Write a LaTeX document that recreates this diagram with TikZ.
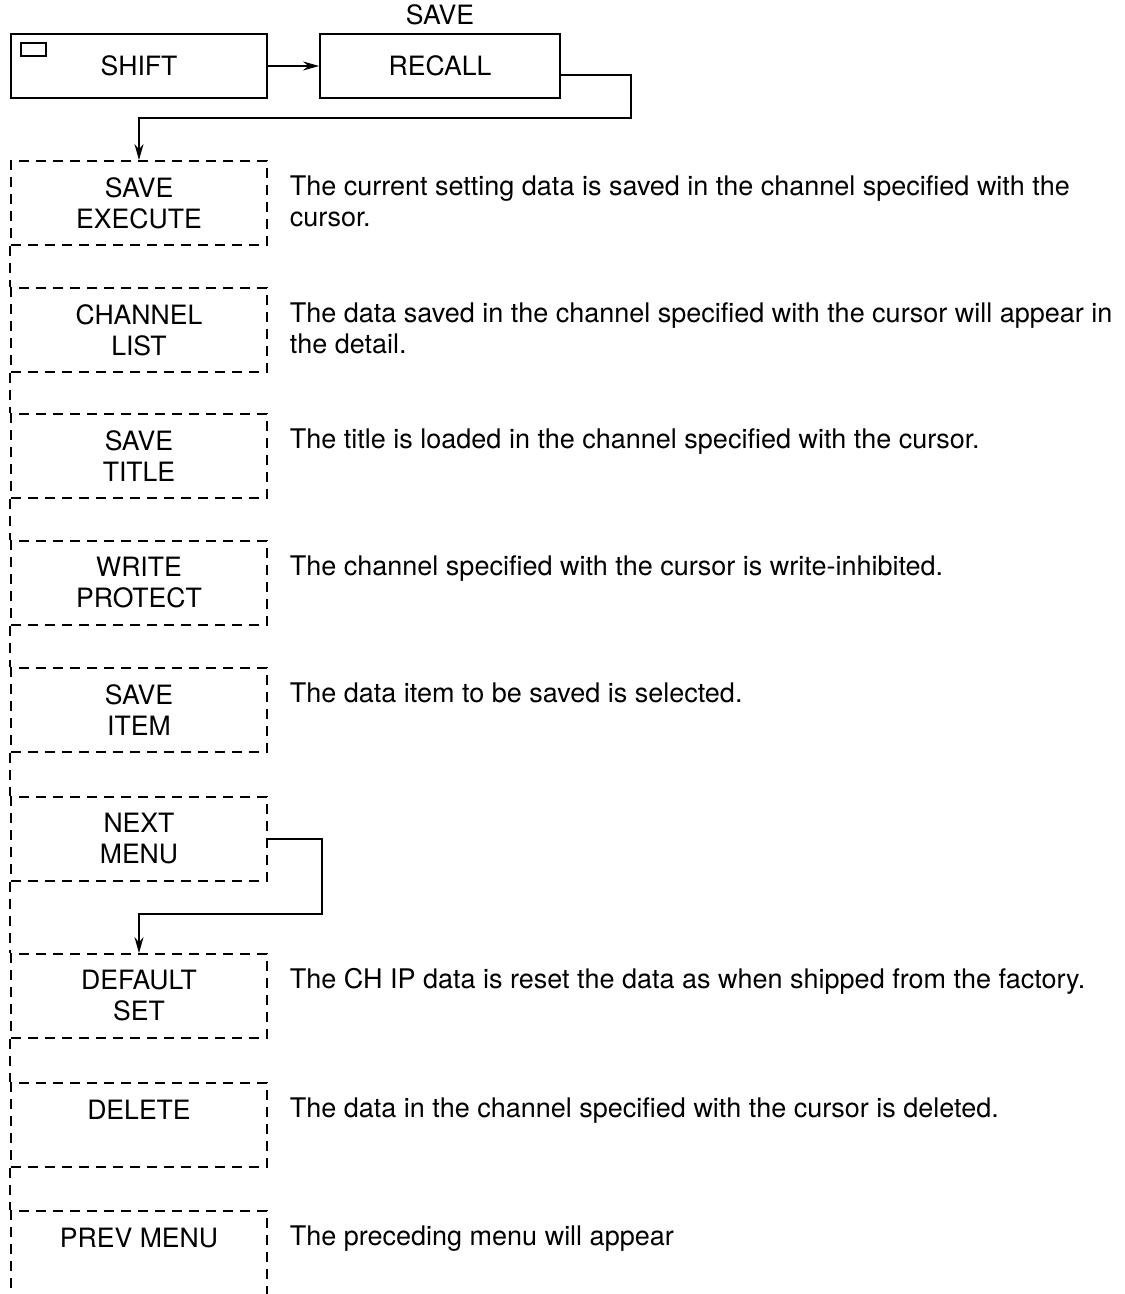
\documentclass[tikz,border=0pt]{standalone}
\usepackage{fontspec}
\setmainfont{TeX Gyre Heros}
\usetikzlibrary{arrows.meta}
\tikzset{
  keybox/.style={draw,minimum height=32pt,inner sep=0pt},
  menubox/.style={draw,dash pattern=on 5pt off 3.5pt,minimum width=128pt,
    minimum height=42pt,inner sep=0pt,align=center},
  desc/.style={anchor=north west,align=left,inner sep=0pt,font=\fontsize{13.5}{15.5}\selectfont},
  flow/.style={-{Stealth[length=8pt,width=4.5pt]}},
}
\begin{document}
\begin{tikzpicture}[x=0.5pt,y=-0.5pt,line width=0.9pt,
  font=\fontsize{13.3}{15.5}\selectfont]
\useasboundingbox (0,0) rectangle (1124,1294);
% keys on the panel
\node[keybox,minimum width=128pt] (shift) at (139,66) {SHIFT};
\node[draw,line width=0.7pt,minimum width=12.5pt,minimum height=6.5pt,inner sep=0pt] (lamp) at (33.5,49.5) {};
\node[keybox,minimum width=120pt] (recall) at (440,66) {RECALL};
\node (save) at (440,15) {SAVE};
\draw[flow] (shift.east) -- (recall.west);
% soft keys
\foreach \i/\ytop/\lbl/\txt in {
  1/161/{SAVE\\EXECUTE}/{The current setting data is saved in the channel specified with the\\cursor.},
  2/288/{CHANNEL\\LIST}/{The data saved in the channel specified with the cursor will appear in\\the detail.},
  3/414/{SAVE\\TITLE}/{The title is loaded in the channel specified with the cursor.},
  4/541/{WRITE\\PROTECT}/{The channel specified with the cursor is write-inhibited.},
  5/668/{SAVE\\ITEM}/{The data item to be saved is selected.},
  6/797/{NEXT\\MENU}/{},
  7/954/{DEFAULT\\SET}/{The CH IP data is reset the data as when shipped from the factory.},
  8/1083/{DELETE\\\mbox{}}/{The data in the channel specified with the cursor is deleted.},
  9/1211/{PREV MENU\\\mbox{}}/{The preceding menu will appear}} {
  \node[menubox] (b\i) at (139,\ytop+42) {\lbl};
  \node[desc] (d\i) at (289,\ytop+12) {\strut\txt};
}
% left edge between the boxes
\foreach \i [count=\j from 2] in {1,...,8} {\draw[dash pattern=on 5pt off 3.5pt] (b\i.south west) -- (b\j.north west);}
\draw[flow] ([shift={(0,9)}]recall.east) -| ++(70,43) -| (b1.north);
\draw[flow] (b6.east) -| ++(54,75) -| (b7.north);
\end{tikzpicture}
\end{document}
